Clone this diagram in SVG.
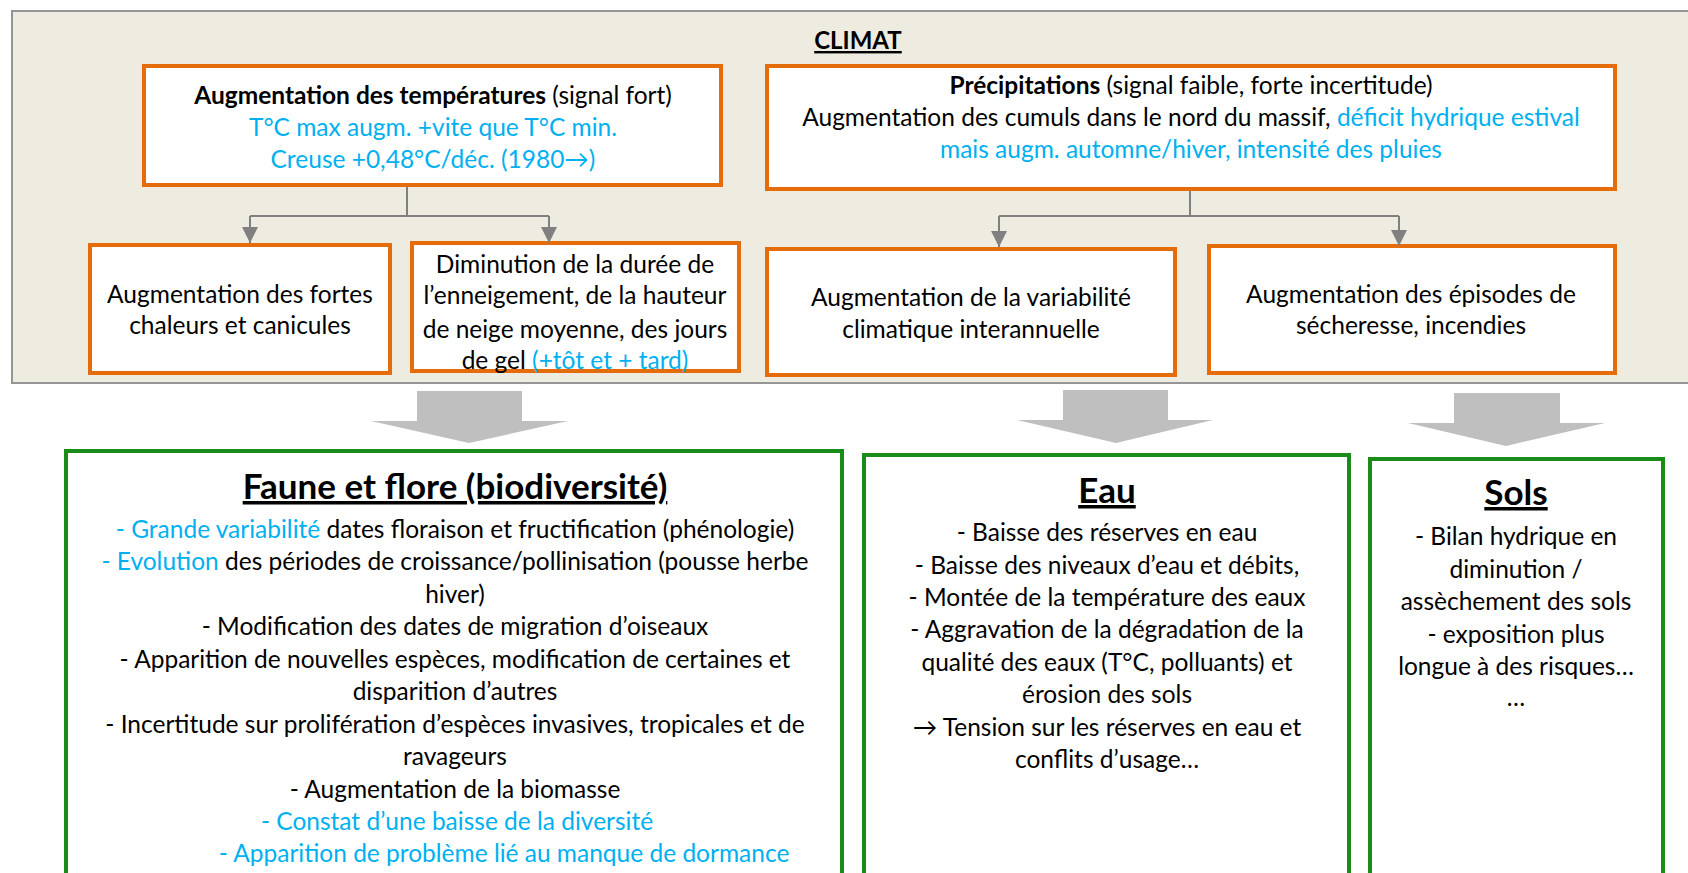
<svg xmlns="http://www.w3.org/2000/svg" width="1688" height="873" viewBox="0 0 1688 873">
<defs>
<style>
text{font-family:Lato,"Open Sans","Liberation Sans",sans-serif;font-size:24.5px;fill:#000;text-anchor:middle}
.b{font-weight:bold}
.bl{fill:#00B0F0}
.u{text-decoration:underline;font-weight:bold}
.h{font-size:35px}
.orange{fill:#fff;stroke:#E46C0A;stroke-width:4}
.green{fill:#fff;stroke:#1A8C1A;stroke-width:4}
.con{fill:none;stroke:#808080;stroke-width:2}
.big{fill:#BFBFBF}
</style>
<marker id="ah" markerUnits="userSpaceOnUse" markerWidth="16" markerHeight="16" refX="16" refY="8" orient="auto" viewBox="0 0 16 16">
<path d="M0,0 L16,8 L0,16 Z" fill="#808080"/>
</marker>
</defs>
<rect id="panel" x="12" y="11" width="1690" height="372" fill="#EEEBE0" stroke="#959595" stroke-width="2"/>
<g id="climat"><text class="u" x="858" y="49" style="font-size:24px">CLIMAT</text></g>
<g id="temperatures">
<rect class="orange" x="144" y="66" width="577" height="119"/>
<text x="433" y="104"><tspan class="b">Augmentation des températures</tspan> (signal fort)</text>
<text class="bl" x="433" y="136">T°C max augm. +vite que T°C min.</text>
<text class="bl" x="433" y="168">Creuse +0,48°C/déc. (1980→)</text>
</g>
<g id="precipitations">
<rect class="orange" x="767" y="66" width="848" height="123"/>
<text x="1191" y="94"><tspan class="b">Précipitations</tspan> (signal faible, forte incertitude)</text>
<text x="1191" y="126">Augmentation des cumuls dans le nord du massif, <tspan class="bl">déficit hydrique estival</tspan></text>
<text class="bl" x="1191" y="158">mais augm. automne/hiver, intensité des pluies</text>
</g>
<g id="chaleurs">
<rect class="orange" x="90" y="245" width="300" height="128"/>
<text x="240" y="303">Augmentation des fortes</text>
<text x="240" y="334">chaleurs et canicules</text>
</g>
<g id="enneigement">
<rect class="orange" x="412" y="243" width="327" height="128"/>
<text x="575" y="273">Diminution de la durée de</text>
<text x="575" y="304">l’enneigement, de la hauteur</text>
<text x="575" y="338">de neige moyenne, des jours</text>
<text x="575" y="369">de gel <tspan class="bl">(+tôt et + tard)</tspan></text>
</g>
<g id="variabilite">
<rect class="orange" x="767" y="249" width="408" height="126"/>
<text x="971" y="306">Augmentation de la variabilité</text>
<text x="971" y="338">climatique interannuelle</text>
</g>
<g id="secheresse">
<rect class="orange" x="1209" y="246" width="406" height="127"/>
<text x="1411" y="303">Augmentation des épisodes de</text>
<text x="1411" y="334">sécheresse, incendies</text>
</g>
<g id="connectors">
<path class="con" d="M407,187 V216 M250,216 H549 M1190,191 V216 M999,216 H1399"/>
<path class="con" d="M250,216 V243" marker-end="url(#ah)"/>
<path class="con" d="M549,216 V243" marker-end="url(#ah)"/>
<path class="con" d="M999,216 V247" marker-end="url(#ah)"/>
<path class="con" d="M1399,216 V246" marker-end="url(#ah)"/>
<polygon class="big" points="417,391 522,391 522,421 568,421 469,443 371,421 417,421"/>
<polygon class="big" points="1063,390 1168,390 1168,420 1213,420 1116,443 1017,420 1063,420"/>
<polygon class="big" points="1454,393 1560,393 1560,423 1605,423 1506,446 1408,423 1454,423"/>
</g>
<g id="faune">
<rect class="green" x="66" y="451" width="776" height="440"/>
<text class="u h" x="455" y="499">Faune et flore (biodiversité)</text>
<text x="455" y="538"><tspan class="bl">- Grande variabilité</tspan> dates floraison et fructification (phénologie)</text>
<text x="455" y="570"><tspan class="bl">- Evolution</tspan> des périodes de croissance/pollinisation (pousse herbe</text>
<text x="455" y="603">hiver)</text>
<text x="455" y="635">- Modification des dates de migration d’oiseaux</text>
<text x="455" y="668">- Apparition de nouvelles espèces, modification de certaines et</text>
<text x="455" y="700">disparition d’autres</text>
<text x="455" y="733">- Incertitude sur prolifération d’espèces invasives, tropicales et de</text>
<text x="455" y="765">ravageurs</text>
<text x="455" y="798">- Augmentation de la biomasse</text>
<text class="bl" x="457" y="830">- Constat d’une baisse de la diversité</text>
<text class="bl" x="504" y="862">- Apparition de problème lié au manque de dormance</text>
</g>
<g id="eau">
<rect class="green" x="864" y="455" width="485" height="440"/>
<text class="u h" x="1107" y="503">Eau</text>
<text x="1107" y="541">- Baisse des réserves en eau</text>
<text x="1107" y="574">- Baisse des niveaux d’eau et débits,</text>
<text x="1107" y="606">- Montée de la température des eaux</text>
<text x="1107" y="638">- Aggravation de la dégradation de la</text>
<text x="1107" y="671">qualité des eaux (T°C, polluants) et</text>
<text x="1107" y="703">érosion des sols</text>
<text x="1107" y="736">→ Tension sur les réserves en eau et</text>
<text x="1107" y="768">conflits d’usage…</text>
</g>
<g id="sols">
<rect class="green" x="1370" y="459" width="293" height="440"/>
<text class="u h" x="1516" y="505">Sols</text>
<text x="1516" y="545">- Bilan hydrique en</text>
<text x="1516" y="578">diminution /</text>
<text x="1516" y="610">assèchement des sols</text>
<text x="1516" y="643">- exposition plus</text>
<text x="1516" y="675">longue à des risques…</text>
<text x="1516" y="706">…</text>
</g>
</svg>
